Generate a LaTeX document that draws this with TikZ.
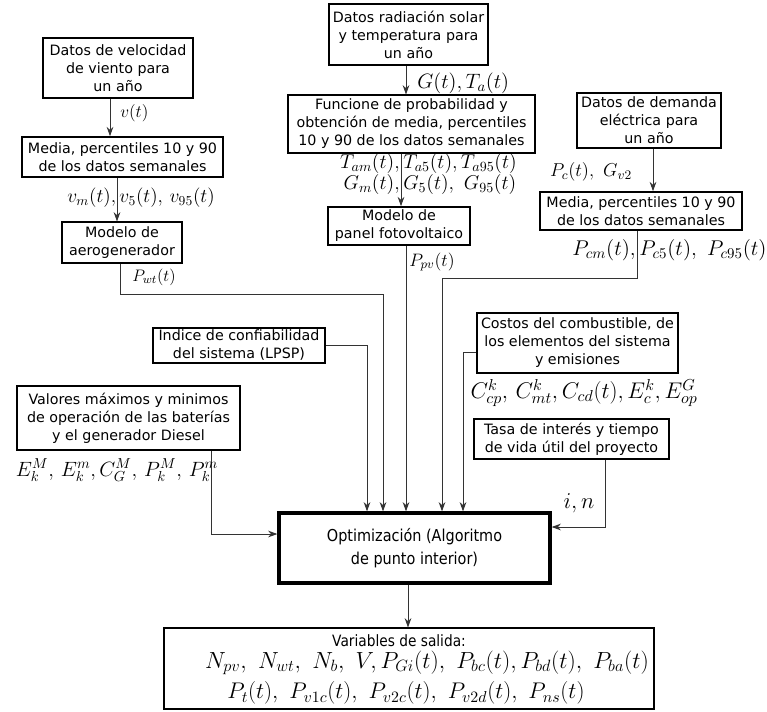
\RequirePackage{fix-cm}
\documentclass[tikz,border=0pt]{standalone}
\usepackage{fontspec}
\setmainfont{DejaVu Sans}
\newfontfamily\condfont{DejaVu Sans}[FakeStretch=0.88]
\usetikzlibrary{arrows.meta}

\tikzset{
  box/.style={draw, line width=1.2pt, align=center, inner sep=0pt,
    font=\fontsize{10.7pt}{13.5pt}\selectfont},
  thinbox/.style={box, line width=0.8pt},
  sz/.style 2 args={minimum width=#1*0.75pt, minimum height=#2*0.75pt},
  link/.style={draw=black!80, line width=0.7pt},
  flow/.style={link, -{Stealth[length=7pt,width=5pt]}},
  lbl/.style={inner sep=0pt, font=\fontsize{#1pt}{#1pt}\selectfont},
}

\begin{document}
\begin{tikzpicture}[x=0.75pt, y=-0.75pt]
    \useasboundingbox (0,0) rectangle (767,711);

    % wind data
    \node[box, sz={150}{60}] (wind) at (118,68) {Datos de velocidad\\de viento para\\un año};
    \node[box, sz={201}{40}] (windstat) at (122.5,157) {Media, percentiles 10 y 90\\de los datos semanales};
    \node[thinbox, sz={120}{41}] (wtmodel) at (122,242.5) {Modelo de\\aerogenerador};

    % solar data
    \node[box, sz={159}{61}] (solar) at (408.5,34.5) {Datos radiación solar\\y temperatura para\\un año};
    \node[thinbox, sz={247}{58}] (solarstat) at (411.5,124) {Funcione de probabilidad y\\obtención de media, percentiles\\10 y 90 de los datos semanales};
    \node[box, sz={142}{38}] (pvmodel) at (399,226) {Modelo de\\panel fotovoltaico};

    % demand data
    \node[box, sz={144}{55}] (demand) at (649,120.5) {Datos de demanda\\eléctrica para\\un año};
    \node[box, sz={202}{38}] (demstat) at (641,211) {Media, percentiles 10 y 90\\de los datos semanales};

    % other inputs
    \node[box, sz={172}{35}] (lpsp) at (239,345.5) {Indice de confiabilidad\\del sistema (LPSP)};
    \node[box, sz={201}{60}] (costs) at (577.5,343) {Costos del combustible, de\\los elementos del sistema\\y emisiones};
    \node[box, sz={223}{64}] (limits) at (128.5,418) {Valores máximos y minimos\\de operación de las baterías\\y el generador Diesel};
    \node[box, sz={195}{40}] (rate) at (571.5,439) {Tasa de interés y tiempo\\de vida útil del proyecto};

    % optimization and outputs
    \node[box, line width=2.4pt, sz={271}{70}, font=\condfont\fontsize{12.3pt}{17pt}\selectfont] (opt) at (414.5,548) {Optimización (Algoritmo\\de punto interior)};
    \node[thinbox, sz={490}{81}] (out) at (409,668.5) {};
    \node[inner sep=0pt, font=\condfont\fontsize{11.7pt}{11.7pt}\selectfont] (outtitle) at (399,641) {Variables de salida:};
    \node[lbl=17.5] (outa) at (427,663) {$N_{pv},\ N_{wt},\ N_b,\ V,P_{Gi}(t),\ P_{bc}(t),P_{bd}(t),\ P_{ba}(t)$};
    \node[lbl=17] (outb) at (406,693) {$P_t(t),\ P_{v1c}(t),\ P_{v2c}(t),\ P_{v2d}(t),\ P_{ns}(t)$};

    % wind branch
    \draw[flow] (wind.south -| 110,0) -- (windstat.north -| 110,0);
    \node[lbl=13, anchor=west] (lv) at (120,113) {$v(t)$};
    \draw[flow] (windstat.south -| 117,0) -- (wtmodel.north -| 117,0);
    \node[lbl=14.6] (lvstat) at (141,198) {$v_m(t), v_5(t),\, v_{95}(t)$};
    \draw[flow] (wtmodel.south -| 120,0) -- (120,294) -- (383,294) -- (opt.north -| 383,0);
    \node[lbl=12.5] (lpwt) at (154,277) {$P_{wt}(t)$};

    % solar branch
    \draw[flow] (solar.south -| 406,0) -- (solarstat.north -| 406,0);
    \node[lbl=15.6, anchor=west] (lgt) at (417,83) {$G(t),T_a(t)$};
    \draw[flow] (solarstat.south -| 401,0) -- (pvmodel.north -| 401,0);
    \node[inner sep=0pt, align=right, anchor=east, font=\fontsize{15pt}{13.5pt}\selectfont] (ltl) at (400,174) {$T_{am}(t),$\\$G_m(t),$};
    \node[inner sep=0pt, align=left, anchor=west, font=\fontsize{15pt}{13.5pt}\selectfont] (ltr) at (403,174) {$T_{a5}(t),T_{a95}(t)$\\$G_5(t),\ G_{95}(t)$};
    \draw[flow] (pvmodel.south -| 406,0) -- (opt.north -| 406,0);
    \node[lbl=13.5] (lppv) at (432,262) {$P_{pv}(t)$};

    % demand branch
    \draw[flow] (demand.south -| 653,0) -- (demstat.north -| 653,0);
    \node[lbl=14] (lpc) at (591,172) {$P_c(t),\ G_{v2}$};
    \draw[flow] (demstat.south -| 637,0) -- (637,278) -- (442,278) -- (opt.north -| 442,0);
    \node[lbl=16, anchor=east] (lpcl) at (636,250) {$P_{cm}(t),$};
    \node[lbl=16, anchor=west] (lpcr) at (639,250) {$P_{c5}(t),\ P_{c95}(t)$};

    % other inputs to the optimization
    \draw[flow] (lpsp.east) -- (lpsp.east -| 367,0) -- (opt.north -| 367,0);
    \draw[flow] (costs.west |- 0,352) -- (463,352) -- (opt.north -| 463,0);
    \node[lbl=17] (lcost) at (584,393) {$C_{cp}^{k},\, C_{mt}^{k},C_{cd}(t),E_{c}^{k},E_{op}^{G}$};
    \draw[flow] (limits.south -| 211,0) -- (211,534) -- (opt.west |- 0,534);
    \node[lbl=15.5] (llim) at (117,470) {$E^M_k,\, E^m_k,C^M_G,\, P^M_k,\, P^m_k$};
    \draw[flow] (rate.south -| 605,0) -- (605,527) -- (opt.east |- 0,527);
    \node[lbl=17] (lin) at (579,503) {$i,n$};

    % result
    \draw[flow] (opt.south -| 408,0) -- (out.north -| 408,0);
\end{tikzpicture}
\end{document}
